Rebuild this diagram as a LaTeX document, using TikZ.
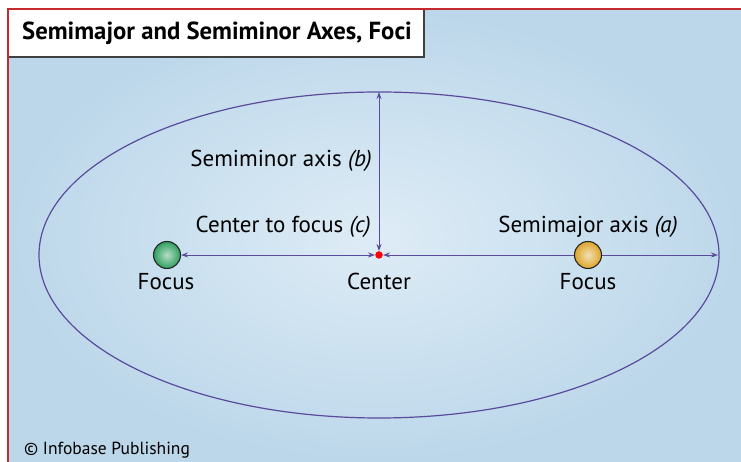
\documentclass[tikz,border=0pt]{standalone}
\usepackage{fontspec}
\setmainfont{PT Sans}
\usetikzlibrary{arrows.meta, positioning, calc}
\definecolor{axisline}{HTML}{5A4A9C}
\definecolor{frame}{HTML}{C62A2F}
\definecolor{bgin}{HTML}{DEECF6}
\definecolor{bgout}{HTML}{BCD7EA}
\definecolor{greenball}{HTML}{2E9E5E}
\definecolor{yellowball}{HTML}{DDA52A}
\begin{document}
\begin{tikzpicture}[
    x=1pt, y=1pt,
    lbl/.style={font=\fontsize{23}{26}\selectfont, inner sep=0pt, anchor=base},
    ball/.style={circle, draw=black!85, line width=1.1pt, minimum size=27pt, inner sep=0pt},
    arr/.style={{Stealth[length=7pt, width=5pt]}-{Stealth[length=7pt, width=5pt]}, axisline, line width=0.9pt}
]
\useasboundingbox (0,0) rectangle (741,462);
% background with radial shading and red frame
\shade[inner color=bgin, outer color=bgout] (8,0) rectangle (741,453);
\draw[frame, line width=2pt] (741,453) -- (8,453) -- (8,0);
% title box
\fill[white] (9,405) rectangle (424,452);
\draw[black!75, line width=1.2pt] (9,405) -- (424,405) -- (424,452);
\node[font=\bfseries\fontsize{24.7}{30}\selectfont, anchor=west, inner sep=0pt] (title) at (22,429)
  {Semimajor and Semiminor Axes, Foci};
% the ellipse and its extreme points
\draw[axisline, line width=1.2pt] (379,207) ellipse [x radius=340, y radius=163];
\coordinate (minor) at (379,370);
\coordinate (major) at (718,207);
% center and left focus
\node[circle, fill=red, inner sep=0pt, minimum size=7.5pt] (center) at (379,207) {};
\node[ball, inner color=greenball!35!white, outer color=greenball] (focusL) at (167,207) {};
% axes
\draw[arr] (center) -- (minor);
\draw[arr] (focusL) -- (center);
\draw[arr] (center) -- (major);
% right focus sits on top of the major axis
\node[ball, inner color=yellowball!35!white, outer color=yellowball] (focusR) at (588,207) {};
% labels
\node[lbl, anchor=base east] (lminor) at (372,295) {Semiminor axis \textit{(b)}};
\node[lbl, anchor=base east] (lfocus) at (371,229) {Center to focus \textit{(c)}};
\node[lbl] (lmajor) at (588,229) {Semimajor axis \textit{(a)}};
\node[lbl] (nfocusL) at (166,172) {Focus};
\node[lbl] (ncenter) at (379,172) {Center};
\node[lbl] (nfocusR) at (588,172) {Focus};
\node[font=\fontsize{17.5}{20}\selectfont, anchor=base west, inner sep=0pt] (credit) at (24,7) {© Infobase Publishing};
\end{tikzpicture}
\end{document}
